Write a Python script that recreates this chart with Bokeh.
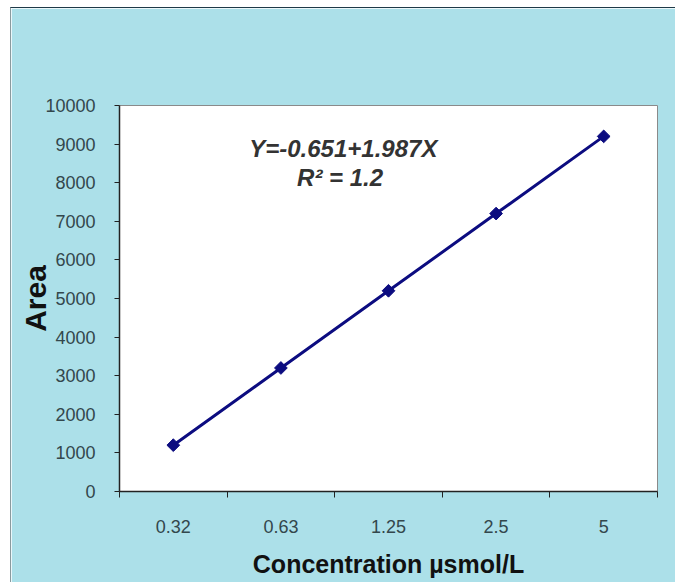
from bokeh.plotting import figure
from bokeh.models import FixedTicker, Label, Range1d, ColumnDataSource
from bokeh.embed import file_html
from bokeh.resources import INLINE
import math

# Data
categories = ["0.32", "0.63", "1.25", "2.5", "5"]
areas = [1200, 3200, 5200, 7200, 9200]
y_ticks = [0, 1000, 2000, 3000, 4000, 5000, 6000, 7000, 8000, 9000, 10000]
equation_text = "Y=-0.651+1.987X"
r2_text = "R\u00b2 = 1.2"
x_title = "Concentration \u00b5smol/L"
y_title = "Area"

xs = [i + 0.5 for i in range(len(categories))]
src = ColumnDataSource(dict(x=xs, y=areas, cat=categories))

BG = "#ace0e9"

p = figure(width=665, height=575, output_backend="svg", toolbar_location=None,
           x_range=Range1d(0, len(categories)), y_range=Range1d(0, 10000),
           min_border_left=108, min_border_right=19, min_border_top=97,
           min_border_bottom=92)
p.styles = {"margin-left": "10px", "margin-top": "7px",
            "border-left": "1px solid #8a9a9e", "border-top": "1px solid #1f3a48"}
p.background_fill_color = "white"
p.border_fill_color = BG
p.outline_line_color = "#8a8a8a"
p.outline_line_width = 1
p.grid.visible = False

# x axis: labels at category centres, tick marks at category boundaries
xa = p.xaxis[0]
xa.ticker = FixedTicker(ticks=xs, minor_ticks=list(range(len(categories) + 1)))
xa.major_label_overrides = {x: c for x, c in zip(xs, categories)}
xa.major_tick_line_color = None
xa.major_tick_out = 0
xa.major_tick_in = 0
xa.minor_tick_line_color = "#222222"
xa.minor_tick_out = 6
xa.minor_tick_in = 0
xa.axis_line_color = "#222222"
xa.axis_line_width = 1.5
xa.major_label_standoff = 22
xa.major_label_text_font = "Liberation Sans"
xa.major_label_text_font_size = "18px"
xa.major_label_text_color = "#33474c"
xa.axis_label = x_title
xa.axis_label_text_font = "Liberation Sans"
xa.axis_label_text_font_style = "bold"
xa.axis_label_text_font_size = "25px"
xa.axis_label_text_color = "#111111"
xa.axis_label_standoff = 14

ya = p.yaxis[0]
ya.ticker = FixedTicker(ticks=y_ticks)
ya.minor_tick_line_color = None
ya.major_tick_out = 5
ya.major_tick_in = 0
ya.major_tick_line_color = "#222222"
ya.axis_line_color = "#222222"
ya.axis_line_width = 1.5
ya.major_label_standoff = 19
ya.major_label_text_font = "Liberation Sans"
ya.major_label_text_font_size = "18px"
ya.major_label_text_color = "#33474c"
ya.axis_label = y_title
ya.axis_label_text_font = "Liberation Sans"
ya.axis_label_text_font_style = "bold"
ya.axis_label_text_font_size = "30px"
ya.axis_label_text_color = "#111111"
ya.axis_label_standoff = -10

p.line("x", "y", source=src, line_color="#0c0c80", line_width=3)
p.scatter("x", "y", source=src, marker="square", size=9, angle=math.pi / 4,
          fill_color="#0c0c80", line_color="#0c0c80")

for txt, x, y in [(equation_text, 2.08, 8880), (r2_text, 2.05, 8130)]:
    p.add_layout(Label(x=x, y=y, text=txt, text_align="center", text_baseline="middle",
                       text_font="Liberation Sans", text_font_style="bold italic",
                       text_font_size="24px", text_color="#333333"))

open("out.html", "w").write(file_html(p, INLINE))
